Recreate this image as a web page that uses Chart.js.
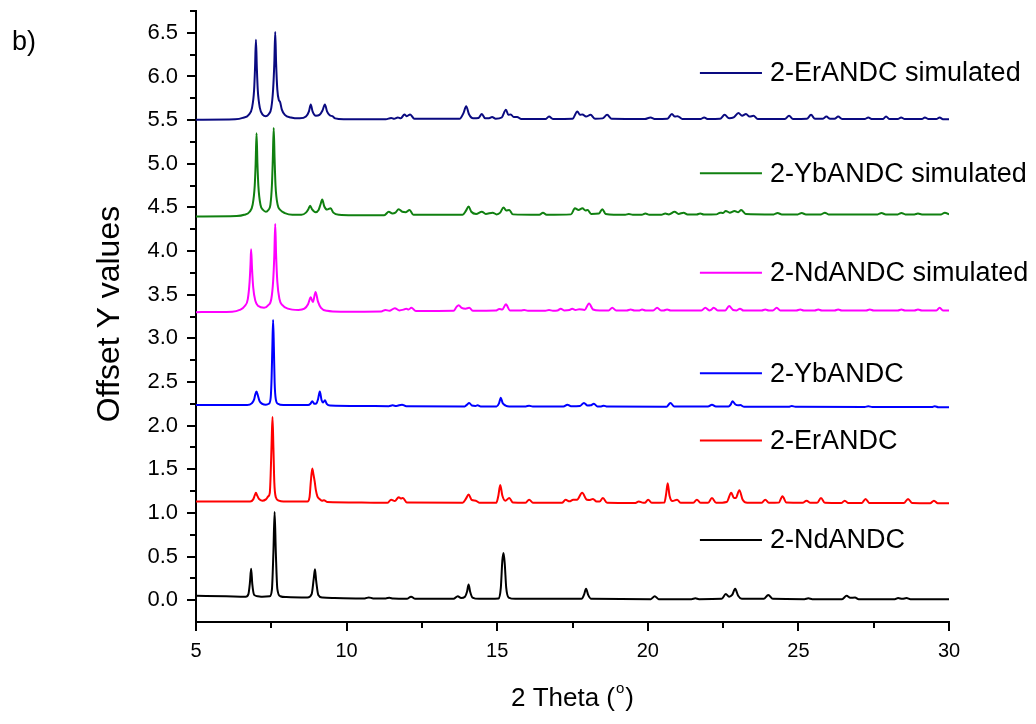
<!DOCTYPE html>
<html>
<head>
<meta charset="utf-8">
<title>XRD patterns</title>
<script src="https://cdn.jsdelivr.net/npm/chart.js@4.4.1/dist/chart.umd.min.js"></script>
<style>
  html, body { margin: 0; padding: 0; background: #fff; }
  #wrap { width: 1036px; height: 724px; }
</style>
</head>
<body>
<div id="wrap"><canvas id="xrd" width="1036" height="724"></canvas></div>
<script>
// Powder patterns, [2theta, offset intensity] pairs, stacked bottom to top
const ndandc = [
  [5.0,0.05],[6.0,0.045],[6.65,0.04],[6.74,0.07],[6.79,0.2],[6.83,0.36],[6.87,0.18],[6.93,0.06],[7.05,0.045],[7.2,0.04],
  [7.45,0.045],[7.52,0.12],[7.57,0.55],[7.61,1.01],[7.65,0.55],[7.7,0.13],[7.8,0.045],[8.0,0.035],[8.7,0.03],[8.84,0.07],
  [8.91,0.25],[8.95,0.355],[8.99,0.22],[9.06,0.06],[9.2,0.03],[9.6,0.025],[10.6,0.02],[10.74,0.032],[10.88,0.02],[11.3,0.02],
  [11.42,0.028],[11.55,0.018],[12.0,0.015],[12.14,0.04],[12.28,0.015],[13.55,0.015],[13.69,0.045],[13.8,0.025],[13.93,0.04],
  [14.0,0.1],[14.05,0.18],[14.1,0.1],[14.18,0.03],[14.4,0.015],[15.05,0.02],[15.12,0.14],[15.17,0.45],[15.21,0.54],[15.25,0.42],
  [15.3,0.14],[15.38,0.03],[15.6,0.015],[17.8,0.015],[17.88,0.06],[17.95,0.13],[18.02,0.06],[18.12,0.015],[20.1,0.012],
  [20.23,0.045],[20.36,0.012],[21.45,0.012],[21.58,0.022],[21.7,0.012],[22.45,0.015],[22.59,0.07],[22.7,0.04],[22.8,0.06],
  [22.9,0.13],[23.0,0.05],[23.12,0.015],[23.85,0.015],[24.0,0.06],[24.15,0.015],[25.2,0.012],[25.33,0.022],[25.46,0.012],
  [26.45,0.012],[26.6,0.05],[26.72,0.028],[26.88,0.03],[27.0,0.012],[28.2,0.012],[28.31,0.025],[28.45,0.015],[28.59,0.025],
  [28.72,0.012],[30,0.01]
];

const erandc = [
  [5.0,1.13],[6.8,1.13],[6.9,1.155],[6.95,1.2],[6.99,1.23],[7.03,1.2],[7.09,1.16],[7.2,1.14],[7.32,1.155],[7.4,1.19],
  [7.45,1.23],[7.48,1.45],[7.51,1.8],[7.54,2.10],[7.57,1.75],[7.6,1.35],[7.65,1.18],[7.75,1.14],[7.9,1.13],[8.7,1.13],
  [8.77,1.18],[8.81,1.35],[8.86,1.51],[8.9,1.44],[8.94,1.36],[8.98,1.26],[9.03,1.19],[9.1,1.16],[9.18,1.14],[9.25,1.145],
  [9.35,1.125],[10.5,1.12],[11.35,1.115],[11.48,1.15],[11.6,1.135],[11.73,1.18],[11.8,1.165],[11.87,1.17],[12.0,1.118],
  [13.85,1.115],[13.96,1.16],[14.05,1.21],[14.15,1.15],[14.29,1.14],[14.42,1.115],[14.97,1.115],[15.04,1.2],[15.1,1.32],
  [15.17,1.2],[15.27,1.14],[15.4,1.17],[15.52,1.118],[15.93,1.115],[16.06,1.15],[16.2,1.115],[17.15,1.115],[17.27,1.15],
  [17.4,1.132],[17.52,1.15],[17.65,1.15],[17.82,1.23],[17.98,1.15],[18.08,1.148],[18.18,1.16],[18.3,1.13],[18.4,1.13],
  [18.51,1.17],[18.65,1.115],[19.57,1.112],[19.7,1.13],[19.85,1.115],[19.9,1.115],[20.01,1.15],[20.14,1.115],[20.55,1.118],
  [20.61,1.22],[20.66,1.34],[20.72,1.2],[20.82,1.135],[20.97,1.15],[21.1,1.115],[21.5,1.115],[21.63,1.15],[21.76,1.115],
  [22.0,1.115],[22.13,1.17],[22.27,1.115],[22.62,1.125],[22.77,1.23],[22.86,1.17],[22.92,1.17],[23.04,1.26],[23.15,1.15],
  [23.3,1.115],[23.77,1.115],[23.9,1.15],[24.03,1.115],[24.35,1.118],[24.47,1.19],[24.6,1.118],[25.14,1.115],[25.27,1.14],
  [25.4,1.115],[25.62,1.115],[25.75,1.17],[25.88,1.115],[26.42,1.112],[26.54,1.14],[26.66,1.112],[27.1,1.112],[27.23,1.16],
  [27.36,1.112],[28.5,1.112],[28.64,1.16],[28.78,1.112],[29.37,1.11],[29.5,1.14],[29.63,1.11],[30,1.11]
];

const ybandc = [
  [5.0,2.235],[6.7,2.235],[6.85,2.255],[6.93,2.3],[6.97,2.36],[7.01,2.39],[7.05,2.35],[7.11,2.28],[7.2,2.25],[7.32,2.24],
  [7.42,2.25],[7.48,2.32],[7.51,2.55],[7.535,2.9],[7.56,3.21],[7.585,2.9],[7.61,2.5],[7.65,2.3],[7.72,2.25],[7.9,2.235],
  [8.72,2.235],[8.8,2.25],[8.86,2.28],[8.93,2.25],[9.0,2.255],[9.05,2.3],[9.11,2.39],[9.17,2.29],[9.22,2.265],[9.28,2.29],
  [9.34,2.25],[9.45,2.23],[10.5,2.225],[11.4,2.222],[11.53,2.232],[11.65,2.225],[11.84,2.24],[11.98,2.222],[13.92,2.22],
  [14.0,2.24],[14.07,2.26],[14.16,2.23],[14.28,2.225],[14.35,2.232],[14.45,2.22],[14.98,2.22],[15.06,2.255],[15.12,2.32],
  [15.18,2.26],[15.28,2.23],[15.4,2.22],[15.95,2.22],[16.06,2.228],[16.18,2.218],[17.2,2.218],[17.33,2.24],[17.45,2.222],
  [17.75,2.225],[17.88,2.26],[18.0,2.23],[18.1,2.232],[18.21,2.25],[18.33,2.22],[18.45,2.22],[18.54,2.228],[18.65,2.218],
  [20.62,2.215],[20.75,2.26],[20.88,2.218],[22.0,2.218],[22.13,2.24],[22.26,2.218],[22.68,2.218],[22.75,2.24],[22.81,2.28],
  [22.9,2.245],[23.0,2.232],[23.07,2.235],[23.2,2.215],[24.68,2.215],[24.78,2.225],[24.9,2.215],[27.2,2.213],[27.32,2.222],
  [27.45,2.213],[29.43,2.212],[29.53,2.222],[29.65,2.21],[30,2.21]
];

const ndSim = [
  [5.0,3.30],[6.2,3.305],[6.45,3.325],[6.62,3.37],[6.72,3.45],[6.78,3.65],[6.81,3.85],[6.83,4.02],[6.86,3.8],[6.9,3.58],
  [6.97,3.43],[7.07,3.37],[7.26,3.35],[7.4,3.38],[7.5,3.45],[7.56,3.65],[7.6,3.95],[7.63,4.31],[7.66,3.95],[7.7,3.65],
  [7.77,3.45],[7.87,3.38],[8.05,3.34],[8.4,3.325],[8.6,3.34],[8.72,3.39],[8.81,3.47],[8.88,3.415],[8.97,3.53],[9.05,3.42],
  [9.15,3.35],[9.35,3.315],[9.8,3.305],[11.15,3.308],[11.29,3.325],[11.42,3.315],[11.6,3.345],[11.75,3.32],[11.9,3.33],
  [11.98,3.34],[12.06,3.33],[12.15,3.35],[12.3,3.312],[13.55,3.315],[13.65,3.36],[13.72,3.38],[13.82,3.35],[13.95,3.34],
  [14.07,3.35],[14.2,3.315],[14.95,3.318],[15.07,3.335],[15.17,3.33],[15.29,3.39],[15.42,3.32],[15.78,3.318],[15.9,3.325],
  [16.02,3.315],[16.6,3.315],[16.72,3.325],[16.85,3.315],[17.0,3.318],[17.11,3.34],[17.22,3.32],[17.4,3.325],[17.49,3.34],
  [17.6,3.325],[17.72,3.333],[17.9,3.325],[18.05,3.40],[18.18,3.33],[18.4,3.318],[18.7,3.32],[18.82,3.35],[18.95,3.318],
  [19.3,3.318],[19.43,3.33],[19.56,3.318],[19.7,3.318],[19.81,3.33],[19.93,3.318],[20.18,3.318],[20.31,3.35],[20.44,3.318],
  [20.52,3.318],[20.64,3.33],[20.76,3.318],[21.78,3.318],[21.91,3.35],[22.04,3.32],[22.1,3.325],[22.19,3.35],[22.32,3.32],
  [22.57,3.32],[22.7,3.37],[22.83,3.325],[22.95,3.32],[23.06,3.34],[23.18,3.318],[23.78,3.318],[23.9,3.33],[24.02,3.318],
  [24.15,3.318],[24.28,3.35],[24.4,3.318],[24.93,3.318],[25.06,3.33],[25.18,3.318],[25.54,3.318],[25.66,3.33],[25.78,3.318],
  [26.2,3.318],[26.32,3.33],[26.44,3.318],[27.25,3.318],[27.37,3.33],[27.5,3.318],[28.3,3.318],[28.42,3.33],[28.54,3.318],
  [28.85,3.318],[28.97,3.33],[29.1,3.318],[29.58,3.318],[29.69,3.35],[29.8,3.318],[30,3.318]
];

const ybSim = [
  [5.0,4.395],[6.35,4.40],[6.6,4.415],[6.78,4.45],[6.88,4.53],[6.95,4.75],[6.98,5.0],[7.01,5.35],[7.04,5.0],[7.07,4.75],
  [7.14,4.53],[7.23,4.47],[7.32,4.45],[7.4,4.47],[7.47,4.53],[7.52,4.75],[7.55,5.05],[7.58,5.41],[7.61,5.05],[7.64,4.75],
  [7.71,4.53],[7.8,4.47],[7.95,4.435],[8.2,4.415],[8.5,4.415],[8.65,4.44],[8.73,4.48],[8.79,4.52],[8.85,4.48],[8.97,4.445],
  [9.07,4.47],[9.13,4.53],[9.19,4.59],[9.26,4.51],[9.35,4.475],[9.47,4.49],[9.56,4.44],[9.75,4.415],[10.2,4.41],[11.25,4.41],
  [11.4,4.45],[11.52,4.43],[11.62,4.44],[11.73,4.48],[11.85,4.45],[11.97,4.445],[12.09,4.47],[12.22,4.415],[13.85,4.415],
  [13.96,4.46],[14.05,4.51],[14.14,4.45],[14.3,4.425],[14.49,4.45],[14.62,4.425],[14.85,4.44],[14.98,4.42],[15.1,4.44],
  [15.21,4.5],[15.3,4.465],[15.4,4.47],[15.52,4.42],[16.4,4.415],[16.52,4.44],[16.64,4.415],[17.45,4.42],[17.58,4.49],
  [17.7,4.47],[17.83,4.49],[17.93,4.465],[18.0,4.47],[18.12,4.425],[18.38,4.43],[18.49,4.48],[18.6,4.425],[19.25,4.415],
  [19.37,4.425],[19.5,4.415],[19.8,4.415],[19.92,4.43],[20.05,4.415],[20.45,4.415],[20.58,4.43],[20.7,4.42],[20.89,4.45],
  [21.02,4.425],[21.19,4.44],[21.32,4.418],[21.62,4.418],[21.74,4.43],[21.86,4.418],[22.28,4.42],[22.4,4.44],[22.5,4.435],
  [22.59,4.46],[22.72,4.44],[22.88,4.46],[23.0,4.445],[23.1,4.47],[23.25,4.425],[24.18,4.42],[24.31,4.435],[24.45,4.42],
  [24.98,4.42],[25.11,4.435],[25.25,4.42],[25.75,4.42],[25.88,4.44],[26.0,4.42],[27.63,4.42],[27.76,4.435],[27.9,4.42],
  [28.3,4.42],[28.42,4.435],[28.55,4.42],[28.85,4.42],[28.97,4.43],[29.1,4.42],[29.74,4.42],[29.86,4.44],[30,4.42]
];

const erSim = [
  [5.0,5.505],[6.3,5.51],[6.55,5.525],[6.75,5.56],[6.86,5.64],[6.93,5.85],[6.96,6.1],[6.99,6.42],[7.02,6.1],[7.05,5.85],
  [7.12,5.64],[7.22,5.56],[7.32,5.545],[7.42,5.57],[7.5,5.64],[7.56,5.85],[7.6,6.15],[7.63,6.51],[7.66,6.15],[7.7,5.85],
  [7.75,5.73],[7.79,5.71],[7.85,5.62],[7.95,5.56],[8.15,5.53],[8.45,5.52],[8.65,5.54],[8.75,5.6],[8.81,5.68],[8.87,5.6],
  [8.98,5.55],[9.1,5.56],[9.2,5.61],[9.28,5.68],[9.35,5.6],[9.44,5.555],[9.53,5.545],[9.62,5.52],[9.9,5.51],[11.3,5.51],
  [11.48,5.525],[11.58,5.515],[11.7,5.53],[11.8,5.52],[11.92,5.565],[12.0,5.545],[12.11,5.565],[12.25,5.515],[13.75,5.515],
  [13.88,5.58],[13.97,5.66],[14.06,5.57],[14.2,5.52],[14.38,5.525],[14.49,5.57],[14.6,5.52],[14.73,5.52],[14.83,5.535],
  [14.95,5.515],[15.15,5.53],[15.29,5.62],[15.37,5.56],[15.45,5.565],[15.55,5.535],[15.66,5.535],[15.8,5.512],[16.6,5.512],
  [16.72,5.54],[16.85,5.512],[17.5,5.515],[17.66,5.6],[17.75,5.56],[17.83,5.565],[17.95,5.54],[18.1,5.56],[18.25,5.515],
  [18.5,5.52],[18.65,5.56],[18.8,5.515],[19.9,5.512],[20.09,5.53],[20.25,5.512],[20.65,5.515],[20.8,5.57],[20.9,5.54],
  [20.99,5.545],[21.15,5.512],[21.75,5.512],[21.87,5.53],[22.0,5.512],[22.4,5.515],[22.55,5.56],[22.7,5.52],[22.85,5.53],
  [23.01,5.58],[23.13,5.55],[23.26,5.57],[23.38,5.54],[23.51,5.55],[23.65,5.512],[24.55,5.512],[24.69,5.55],[24.82,5.512],
  [25.28,5.515],[25.42,5.56],[25.55,5.515],[25.8,5.515],[25.93,5.54],[26.05,5.515],[26.2,5.515],[26.32,5.54],[26.45,5.512],
  [27.2,5.512],[27.32,5.53],[27.45,5.512],[27.8,5.512],[27.91,5.54],[28.03,5.512],[28.3,5.512],[28.41,5.53],[28.53,5.512],
  [29.1,5.512],[29.2,5.53],[29.32,5.512],[29.58,5.512],[29.69,5.53],[29.8,5.51],[30,5.51]
];

const seriesNames = ['2-NdANDC', '2-ErANDC', '2-YbANDC', '2-NdANDC simulated', '2-YbANDC simulated', '2-ErANDC simulated'];
const seriesData = [ndandc, erandc, ybandc, ndSim, ybSim, erSim];
const seriesColors = ['#000000', '#ff0000', '#0000ff', '#ff00ff', '#108010', '#0a0a80'];

const xMin = 5, xMax = 30, xStep = 2.5;
const yMin = -0.25, yMax = 6.75, yStep = 0.25;

const FONT = "'Liberation Sans', Arial, sans-serif";
const MAJOR_LEN = 9, MINOR_LEN = 6;

const isMultiple = (v, m) => Math.abs(v / m - Math.round(v / m)) < 1e-6;

// Chart.js only draws the major ticks (minor ones are made transparent);
// the shorter minor ticks are stroked here
const minorTicks = {
  id: 'minorTicks',
  afterDraw(chart) {
    const { ctx, scales: { x, y } } = chart;
    ctx.save();
    ctx.strokeStyle = '#000';
    ctx.lineWidth = 2;
    ctx.beginPath();
    x.ticks.forEach(t => {
      if (isMultiple(t.value, xStep * 2)) return;
      const px = Math.round(x.getPixelForValue(t.value));
      ctx.moveTo(px, x.top);
      ctx.lineTo(px, x.top + MINOR_LEN);
    });
    y.ticks.forEach(t => {
      if (isMultiple(t.value, yStep * 2) || t.value === yMin) return;
      const py = Math.round(y.getPixelForValue(t.value));
      ctx.moveTo(y.right, py);
      ctx.lineTo(y.right - MINOR_LEN, py);
    });
    ctx.stroke();
    ctx.restore();
  }
};

// text that Chart.js does not place the way we want: panel tag, axis titles, in-plot legend
const decorations = {
  id: 'decorations',
  afterDraw(chart, args, opts) {
    const { ctx, scales } = chart;
    const x = scales.x, y = scales.y;
    ctx.save();
    ctx.fillStyle = '#000';

    // panel tag
    ctx.font = '27px ' + FONT;
    ctx.textAlign = 'left';
    ctx.textBaseline = 'alphabetic';
    ctx.fillText('b)', 12, 50);

    // y title
    ctx.save();
    ctx.translate(119, 314);
    ctx.rotate(-Math.PI / 2);
    ctx.font = '32px ' + FONT;
    ctx.textAlign = 'center';
    ctx.fillText('Offset Y values', 0, 0);
    ctx.restore();

    // x title with superscript degree mark
    ctx.font = '26px ' + FONT;
    const head = '2 Theta (', tail = ')';
    const wHead = ctx.measureText(head).width;
    const wTail = ctx.measureText(tail).width;
    ctx.font = '15px ' + FONT;
    const wSup = ctx.measureText('o').width + 2;
    const total = wHead + wSup + wTail;
    const cx = (x.left + x.right) / 2 - total / 2;
    const base = 706;
    ctx.font = '26px ' + FONT;
    ctx.fillText(head, cx, base);
    ctx.font = '15px ' + FONT;
    ctx.fillText('o', cx + wHead + 1, base - 13);
    ctx.font = '26px ' + FONT;
    ctx.fillText(tail, cx + wHead + wSup, base);

    // legend rows next to their traces
    ctx.font = '27px ' + FONT;
    ctx.textBaseline = 'middle';
    opts.rows.forEach(row => {
      const ds = chart.data.datasets[row.index];
      const py = y.getPixelForValue(row.y);
      ctx.strokeStyle = ds.borderColor;
      ctx.lineWidth = 2;
      ctx.beginPath();
      ctx.moveTo(x.getPixelForValue(opts.lineFrom), py);
      ctx.lineTo(x.getPixelForValue(opts.lineTo), py);
      ctx.stroke();
      ctx.fillStyle = '#000';
      ctx.fillText(ds.label, x.getPixelForValue(opts.textAt), py + 1);
    });
    ctx.restore();
  }
};

new Chart(document.getElementById('xrd'), {
  type: 'line',
  data: {
    datasets: seriesData.map((pts, i) => ({
      label: seriesNames[i],
      data: pts.map(p => ({ x: p[0], y: p[1] })),
      borderColor: seriesColors[i],
      borderWidth: 2,
      pointRadius: 0,
      fill: false,
      cubicInterpolationMode: 'monotone'
    }))
  },
  options: {
    responsive: false,
    animation: false,
    layout: { padding: { left: 0, right: 87, top: 11, bottom: 0 } },
    plugins: {
      legend: { display: false },
      tooltip: { enabled: false },
      decorations: {
        lineFrom: 21.73, lineTo: 23.79, textAt: 24.06,
        rows: [
          { index: 5, y: 6.04 },
          { index: 4, y: 4.89 },
          { index: 3, y: 3.75 },
          { index: 2, y: 2.60 },
          { index: 1, y: 1.83 },
          { index: 0, y: 0.69 }
        ]
      }
    },
    scales: {
      x: {
        type: 'linear',
        min: xMin, max: xMax,
        afterFit: s => { s.height = 102; s.paddingLeft = 0; s.paddingRight = 0; },
        ticks: {
          stepSize: xStep,
          color: '#000',
          font: { family: FONT, size: 20 },
          padding: 8,
          maxRotation: 0,
          autoSkip: false,
          callback: v => isMultiple(v, 5) ? String(v) : ''
        },
        grid: {
          drawOnChartArea: false,
          color: c => (c.tick && isMultiple(c.tick.value, xStep * 2)) ? '#000' : 'rgba(0,0,0,0)',
          lineWidth: 2,
          tickLength: MAJOR_LEN
        },
        border: { display: true, color: '#000', width: 2 }
      },
      y: {
        type: 'linear',
        min: yMin, max: yMax,
        afterFit: s => { s.width = 196; s.paddingTop = 0; s.paddingBottom = 0; },
        ticks: {
          stepSize: yStep,
          color: '#000',
          font: { family: FONT, size: 22 },
          padding: 9,
          autoSkip: false,
          callback: v => (isMultiple(v, 0.5) && v >= 0 && v <= 6.5) ? v.toFixed(1) : ''
        },
        grid: {
          drawOnChartArea: false,
          color: c => (c.tick && isMultiple(c.tick.value, yStep * 2)) ? '#000' : 'rgba(0,0,0,0)',
          lineWidth: 2,
          tickLength: MAJOR_LEN
        },
        border: { display: true, color: '#000', width: 2 }
      }
    }
  },
  plugins: [minorTicks, decorations]
});
</script>
</body>
</html>
